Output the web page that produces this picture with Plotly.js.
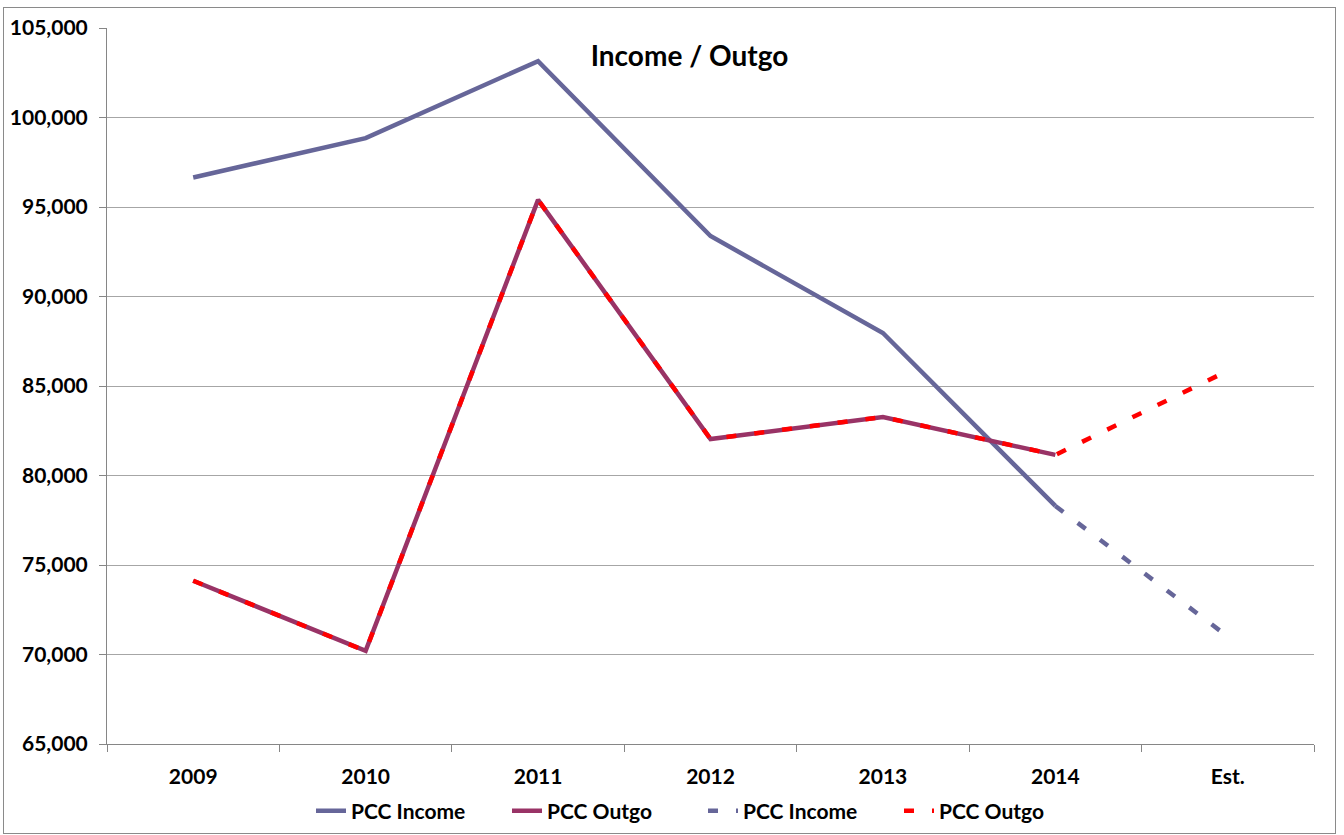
<!DOCTYPE html>
<html>
<head>
<meta charset="utf-8">
<script src="https://cdn.plot.ly/plotly-3.0.1.min.js"></script>
<style>
  html, body { margin: 0; padding: 0; background: #fff; }
  #wrap { position: relative; width: 1344px; height: 835px; }
  #chart { position: absolute; left: 0; top: 0; width: 1344px; height: 835px; }
  #frame { position: absolute; left: 3px; top: 7px; width: 1331px; height: 825px;
           border: 1.5px solid #8a8a8a; pointer-events: none; }
</style>
</head>
<body>
<div id="wrap">
  <div id="chart"></div>
  <div id="frame"></div>
</div>
<script>
// Categories (x-axis)
const categories = ['2009', '2010', '2011', '2012', '2013', '2014', 'Est.'];

// Actual values (solid lines)
const incomeActual = [96650, 98850, 103150, 93380, 87960, 78300, null];
const outgoActual  = [74120, 70200, 95400, 82040, 83270, 81150, null];

// Estimate series (dashed lines)
const incomeEstimate = [null, null, null, null, null, 78300, 71000];
const outgoEstimate  = [74120, 70200, 95400, 82040, 83270, 81150, 85850];

const seriesNames = ['PCC Income', 'PCC Outgo', 'PCC Income', 'PCC Outgo'];

const FONT = 'Lato, "Open Sans", "DejaVu Sans", sans-serif';

const traces = [
  { x: categories, y: incomeActual, name: seriesNames[0], type: 'scatter', mode: 'lines',
    line: { color: '#666699', width: 4.5 }, connectgaps: false },
  { x: categories, y: outgoActual, name: seriesNames[1], type: 'scatter', mode: 'lines',
    line: { color: '#993366', width: 4.5 }, connectgaps: false },
  { x: categories, y: incomeEstimate, name: seriesNames[2], type: 'scatter', mode: 'lines',
    line: { color: '#666699', width: 4.5, dash: '10px,18px' }, connectgaps: false },
  { x: categories, y: outgoEstimate, name: seriesNames[3], type: 'scatter', mode: 'lines',
    line: { color: '#FF0000', width: 4.5, dash: '10px,18px' }, connectgaps: false }
];

const layout = {
  width: 1344,
  height: 835,
  margin: { l: 107, r: 30, t: 28, b: 91, autoexpand: false },
  paper_bgcolor: '#ffffff',
  plot_bgcolor: '#ffffff',
  font: { family: FONT, color: '#000000' },
  title: {
    text: '<b>Income / Outgo</b>',
    font: { family: FONT, size: 28, color: '#000000' },
    x: 689.5 / 1344, xref: 'container', xanchor: 'center',
    y: 1 - 56 / 835, yref: 'container', yanchor: 'middle'
  },
  showlegend: true,
  legend: {
    orientation: 'h',
    xref: 'container', yref: 'container',
    x: 311 / 1344, xanchor: 'left',
    y: 1 - 811 / 835, yanchor: 'middle',
    font: { family: FONT, size: 21, color: '#000000', weight: 'bold' },
    itemwidth: 30,
    entrywidth: 151,
    entrywidthmode: 'pixels',
    bgcolor: 'rgba(0,0,0,0)'
  },
  xaxis: {
    type: 'category',
    categoryorder: 'array',
    categoryarray: categories,
    range: [-0.5, 6.5],
    tickson: 'boundaries',
    ticks: 'outside',
    ticklen: 7,
    tickcolor: '#868686',
    tickwidth: 1,
    ticklabelstandoff: 14,
    showline: true,
    linecolor: '#868686',
    linewidth: 1,
    showgrid: false,
    zeroline: false,
    automargin: false,
    tickfont: { family: FONT, size: 21, color: '#000000', weight: 'bold' },
    fixedrange: true
  },
  yaxis: {
    range: [65000, 105000],
    dtick: 5000,
    tick0: 65000,
    tickformat: ',d',
    ticks: 'outside',
    ticklen: 7,
    tickcolor: '#868686',
    tickwidth: 1,
    ticklabelstandoff: 7,
    showline: true,
    linecolor: '#868686',
    linewidth: 1,
    showgrid: true,
    gridcolor: '#a6a6a6',
    gridwidth: 1,
    zeroline: false,
    automargin: false,
    tickfont: { family: FONT, size: 21, color: '#000000', weight: 'bold' },
    fixedrange: true
  }
};

Plotly.newPlot('chart', traces, layout, { displayModeBar: false, staticPlot: true });
</script>
</body>
</html>
